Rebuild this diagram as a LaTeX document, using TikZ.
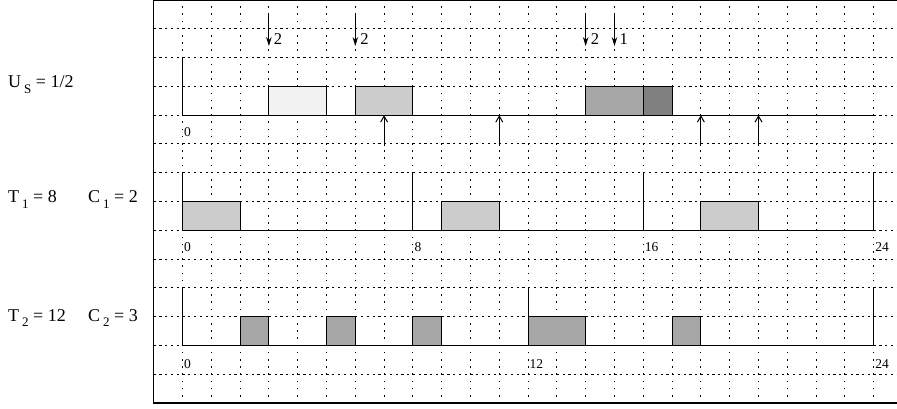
\documentclass[tikz,border=0pt]{standalone}
\usepackage{fontspec}
\setmainfont{Liberation Serif}
\usetikzlibrary{arrows.meta}
\definecolor{gA}{gray}{0.95}
\definecolor{gB}{gray}{0.80}
\definecolor{gC}{gray}{0.65}
\definecolor{gD}{gray}{0.50}
\newcommand\lowsub[1]{\raisebox{-0.32em}{\fontsize{13}{13}\selectfont #1}}
\begin{document}
\begin{tikzpicture}[x=28.8pt,y=28.8pt,
  vgrid/.style={line width=1.1pt,dash pattern=on 1.6pt off 5.6pt,dash phase=0.6pt},
  hgrid/.style={line width=1.0pt,dash pattern=on 2.2pt off 3.56pt},
  frameline/.style={line width=1.4pt},
  axisline/.style={line width=1.1pt},
  job/.style={draw,line width=1.1pt},
  request/.style={line width=1pt,-{Stealth[length=9pt,width=5.5pt]}},
  deadline/.style={line width=1pt,-{Straight Barb[length=6pt,width=7pt]}},
  tasklabel/.style={anchor=base west,inner sep=0pt,font=\fontsize{18}{20}\selectfont},
  ticklabel/.style={anchor=base west,inner sep=0pt,font=\fontsize{13.5}{14}\selectfont},
  reqlabel/.style={anchor=base west,inner sep=0pt,font=\fontsize{16.5}{17}\selectfont}]
\useasboundingbox (-6.337,-0.201) rectangle (24.81,14.0);
% grid
\foreach \x in {0,...,24} \draw[vgrid] (\x,0) -- (\x,14);
\foreach \y in {1,...,13} \draw[hgrid] (-1,\y) -- (24.81,\y);
\draw[frameline] (24.81,14) -- (-1,14) -- (-1,0) -- (24.81,0);
% ---- server U_S
\draw[job,fill=gA] (3,10) rectangle (5,11);
\draw[job,fill=gB] (6,10) rectangle (8,11);
\draw[job,fill=gC] (14,10) rectangle (16,11);
\draw[job,fill=gD] (16,10) rectangle (17,11);
\draw[axisline] (0,12) -- (0,10) -- (24,10);
\foreach \t/\n in {3/a,6/b,14/c,15/d} {
  \coordinate (rs\n) at (\t,13.55);
  \coordinate (re\n) at (\t,12.40);
  \draw[request] (rs\n) -- (re\n);
}
\node[reqlabel] (ra) at (3.17,12.47) {2};
\node[reqlabel] (rb) at (6.17,12.47) {2};
\node[reqlabel] (rc) at (14.17,12.47) {2};
\node[reqlabel] (rd) at (15.17,12.47) {1};
\foreach \t/\n in {7/a,11/b,18/c,20/d} {
  \coordinate (ds\n) at (\t,8.92);
  \coordinate (de\n) at (\t,10);
  \draw[deadline] (ds\n) -- (de\n);
}
\node[ticklabel] (us0) at (0.05,9.25) {0};
\node[tasklabel] (lus) at (-6.059,10.97) {U\,\lowsub{S} = 1/2};
% ---- task 1
\foreach \a/\b in {0/2,9/11,18/20} \draw[job,fill=gB] (\a,6) rectangle (\b,7);
\draw[axisline] (0,8) -- (0,6) -- (24,6);
\foreach \t in {8,16,24} \draw[axisline] (\t,6) -- (\t,8);
\foreach \t in {0,8,16,24} \node[ticklabel] (ta\t) at (\t+0.05,5.25) {\t};
\node[tasklabel] (lt1) at (-6.059,6.96) {T\,\lowsub{1} = 8};
\node[tasklabel] (lc1) at (-3.281,6.96) {C\,\lowsub{1} = 2};
% ---- task 2
\foreach \a/\b in {2/3,5/6,8/9,12/14,17/18} \draw[job,fill=gC] (\a,2) rectangle (\b,3);
\draw[axisline] (0,4) -- (0,2) -- (24,2);
\foreach \t in {12,24} \draw[axisline] (\t,2) -- (\t,4);
\foreach \t in {0,12,24} \node[ticklabel] (tb\t) at (\t+0.05,1.22) {\t};
\node[tasklabel] (lt2) at (-6.059,2.85) {T\,\lowsub{2} = 12};
\node[tasklabel] (lc2) at (-3.281,2.85) {C\,\lowsub{2} = 3};
\end{tikzpicture}
\end{document}
